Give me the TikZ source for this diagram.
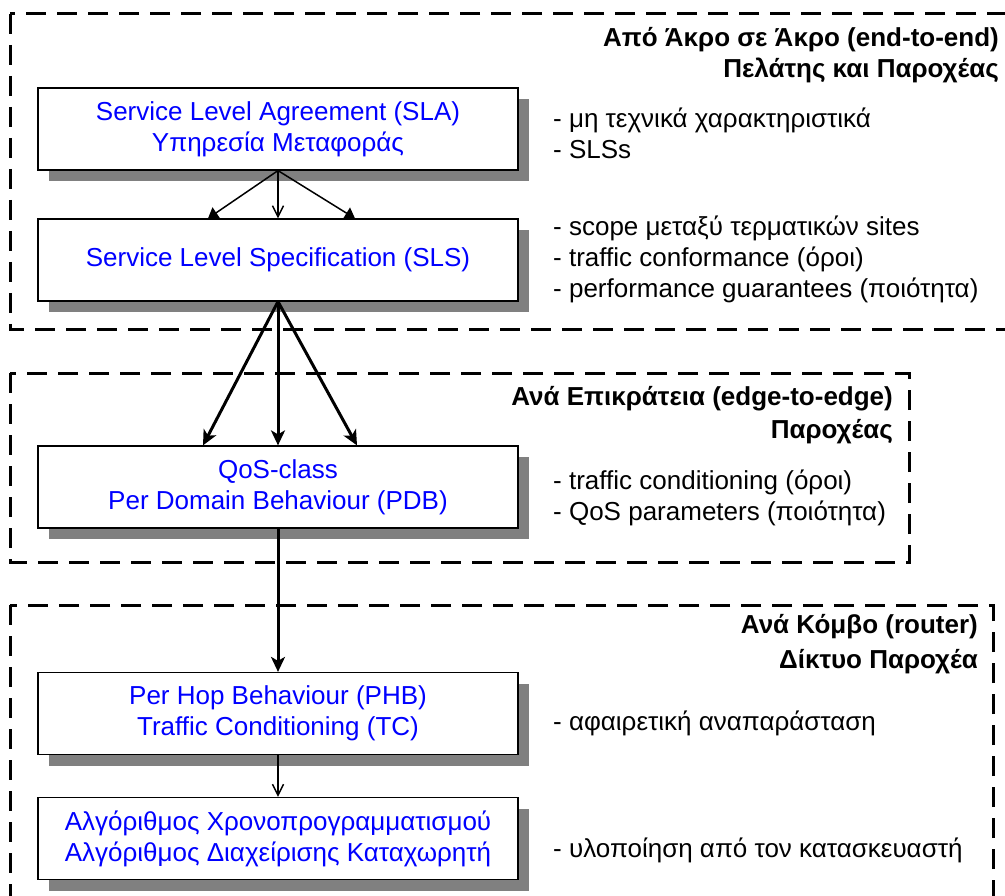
\documentclass[tikz,border=0pt]{standalone}
\usepackage{fontspec}
\setmainfont{Liberation Sans}
\usetikzlibrary{arrows.meta,calc,shadows}
\definecolor{boxblue}{RGB}{0,0,255}
\definecolor{shadowgray}{RGB}{128,128,128}

\begin{document}
\begin{tikzpicture}[x=1pt,y=-1pt,
  frame/.style={line width=3pt, dash pattern=on 20pt off 11pt},
  layerbox/.style={draw=black, line width=1.2pt, fill=white,
    minimum width=480pt, minimum height=82pt, inner sep=0pt,
    align=center, text=boxblue, font=\fontsize{26}{31}\selectfont,
    general shadow={fill=shadowgray, shadow xshift=11pt, shadow yshift=-11pt}},
  note/.style={anchor=west, align=left, inner sep=0pt,
    font=\fontsize{26}{31}\selectfont},
  head/.style={anchor=base east, inner sep=0pt,
    font=\bfseries\fontsize{26}{31}\selectfont},
  thinlink/.style={line width=1.5pt},
  thicklink/.style={line width=3pt},
  solidhead/.style={-{Triangle[length=10pt,width=13pt]}},
  openhead/.style={-{Straight Barb[length=11pt,width=11pt]}},
  boldhead/.style={-{Stealth[length=15pt,width=14pt,inset=4pt]}},
]
\useasboundingbox[fill=white] (0,0) rectangle (1005,896);
\clip (0,0) rectangle (1005,896);

% layer frames
\draw[frame] (10,14) rectangle (1014,330);
\draw[frame] (10,373) rectangle (909,562);
\draw[frame] (10,605) rectangle (993,912);

% layer headings
\node[head] (h1a) at (999,47) {Από Άκρο σε Άκρο (end-to-end)};
\node[head] (h1b) at (999,78) {Πελάτης και Παροχέας};
\node[head] (h2a) at (893,405) {Ανά Επικράτεια (edge-to-edge)};
\node[head] (h2b) at (893,438) {Παροχέας};
\node[head] (h3a) at (978,633) {Ανά Κόμβο (router)};
\node[head] (h3b) at (978,668) {Δίκτυο Παροχέα};

% boxes
\node[layerbox] (sla) at (278,129) {Service Level Agreement (SLA)\\Υπηρεσία Μεταφοράς};
\node[layerbox] (sls) at (278,260) {Service Level Specification (SLS)};
\node[layerbox] (pdb) at (278,487) {QoS-class\\Per Domain Behaviour (PDB)};
\node[layerbox] (phb) at (278,713.5) {Per Hop Behaviour (PHB)\\Traffic Conditioning (TC)};
\node[layerbox] (alg) at (278,838.5) {Αλγόριθμος Χρονοπρογραμματισμού\\Αλγόριθμος Διαχείρισης Καταχωρητή};

% notes
\node[note] (n1) at (553,133.5) {- μη τεχνικά χαρακτηριστικά\\- SLSs};
\node[note] (n2) at (553,259) {- scope μεταξύ τερματικών sites\\- traffic conformance (όροι)\\- performance guarantees (ποιότητα)};
\node[note] (n3) at (553,498) {- traffic conditioning (όροι)\\- QoS parameters (ποιότητα)};
\node[note, anchor=base west] (n4) at (553,730) {- αφαιρετική αναπαράσταση};
\node[note, anchor=base west] (n5) at (553,857) {- υλοποίηση από τον κατασκευαστή};

% connectors
\draw[thinlink, solidhead] (sla.south) -- ($(sls.north)+(-70,0)$);
\draw[thinlink, openhead]  (sla.south) -- (sls.north);
\draw[thinlink, solidhead] (sla.south) -- ($(sls.north)+(77,0)$);

\draw[thicklink, boldhead] (sls.south) -- ($(pdb.north)+(-75,0)$);
\draw[thicklink, boldhead] (sls.south) -- (pdb.north);
\draw[thicklink, boldhead] (sls.south) -- ($(pdb.north)+(79,0)$);

\draw[thicklink, boldhead] (pdb.south) -- (phb.north);
\draw[thinlink, openhead]  (phb.south) -- (alg.north);
\end{tikzpicture}
\end{document}
